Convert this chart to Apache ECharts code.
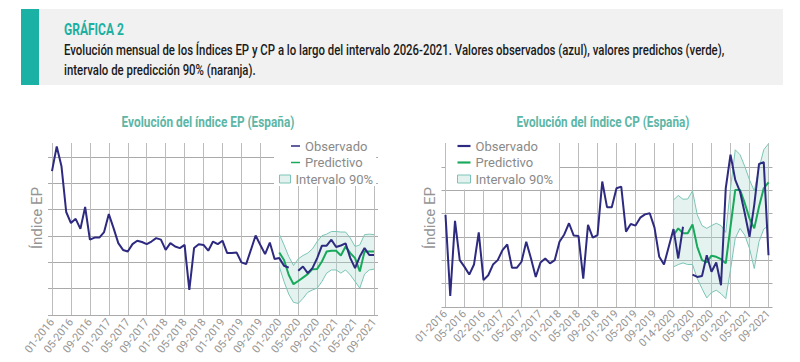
<!DOCTYPE html>
<html><head><meta charset="utf-8">
<script src="https://cdn.jsdelivr.net/npm/echarts@6/dist/echarts.min.js"></script>
<style>html,body{margin:0;padding:0;background:#fff}#c{width:800px;height:362px}</style>
</head><body><div id="c"></div>
<script>
const months = ['01-2016','02-2016','03-2016','04-2016','05-2016','06-2016','07-2016','08-2016','09-2016','10-2016','11-2016','12-2016',
'01-2017','02-2017','03-2017','04-2017','05-2017','06-2017','07-2017','08-2017','09-2017','10-2017','11-2017','12-2017',
'01-2018','02-2018','03-2018','04-2018','05-2018','06-2018','07-2018','08-2018','09-2018','10-2018','11-2018','12-2018',
'01-2019','02-2019','03-2019','04-2019','05-2019','06-2019','07-2019','08-2019','09-2019','10-2019','11-2019','12-2019',
'01-2020','02-2020','03-2020','04-2020','05-2020','06-2020','07-2020','08-2020','09-2020','10-2020','11-2020','12-2020',
'01-2021','02-2021','03-2021','04-2021','05-2021','06-2021','07-2021','08-2021','09-2021'];
const epTickLabels = ['01-2016','05-2016','09-2016','01-2017','05-2017','09-2017','01-2018','05-2018','09-2018','01-2019','05-2019','09-2019','01-2020','05-2020','09-2020','01-2021','05-2021','09-2021'];
const cpTickLabels = ['01-2016','05-2016','02-2016','01-2017','05-2017','09-2017','01-2018','05-2018','09-2018','01-2019','05-2019','09-2019','014-2020','05-2020','09-2020','01-2021','05-2021','09-2021'];
const forecastStart = '01-2020';

const epObserved = [5.46,6.40,5.65,3.91,3.49,3.65,3.27,4.10,2.86,2.94,2.94,3.15,3.83,3.30,2.73,2.47,2.41,2.69,2.82,2.77,2.69,2.79,2.92,2.86,2.47,2.73,2.60,2.54,2.66,0.95,2.54,2.69,2.66,2.44,2.79,2.69,2.82,2.35,2.35,2.37,2.00,1.93,2.47,3.02,2.66,2.31,2.75,2.13,2.16,1.87,1.80,null,1.68,1.84,1.59,1.78,2.16,2.63,2.63,2.86,2.58,2.64,2.72,2.16,1.78,2.22,2.54,2.28,2.28];
const epPredicted = [2.37,2.09,1.52,1.17,1.29,1.42,1.55,1.74,1.75,2.03,2.41,2.44,2.44,2.26,2.60,2.35,2.16,1.65,2.41,2.41,2.41];
const epLower = [1.84,1.27,0.79,0.48,0.44,0.63,0.86,0.95,1.02,1.27,1.59,1.71,1.71,1.59,1.71,1.52,1.27,1.02,1.55,1.71,1.74];
const epUpper = [3.07,2.66,2.22,1.88,2.13,2.26,2.35,2.51,2.79,3.01,3.07,3.17,3.17,3.15,3.15,2.92,2.60,2.66,3.05,3.07,3.05];

const cpObserved = [3.95,0.47,3.69,2.01,1.72,1.39,1.82,3.20,1.15,1.36,1.82,2.01,2.44,2.68,1.68,1.68,1.94,2.80,2.08,1.29,1.91,2.08,1.87,2.01,2.80,3.11,3.59,3.06,3.04,1.22,3.52,2.97,3.08,5.38,4.28,4.28,5.09,5.16,3.23,3.56,3.49,3.83,3.97,4.02,3.40,2.15,1.82,2.58,3.34,2.08,3.44,null,1.39,1.29,1.33,2.22,1.51,1.91,0.93,5.09,6.53,5.45,4.95,4.02,3.01,4.38,6.13,6.21,2.22];
const cpPredicted = [3.08,3.37,3.16,3.16,3.54,2.58,2.01,1.91,2.20,2.15,2.05,1.87,3.44,5.02,5.02,4.45,3.80,3.37,4.30,5.09,5.34];
const cpLower = [1.72,1.82,1.89,1.82,1.82,1.22,0.79,0.39,0.62,0.72,0.57,0.36,1.60,2.94,3.37,3.08,2.51,1.65,2.80,3.34,3.49];
const cpUpper = [4.59,4.78,4.62,4.63,4.98,3.95,3.49,3.37,3.49,3.59,3.49,3.20,5.09,6.74,6.53,6.03,5.45,4.98,5.95,6.74,7.00];

const headTitle = 'GRÁFICA 2';
const headLine1 = 'Evolución mensual de los Índices EP y CP a lo largo del intervalo 2026-2021. Valores observados (azul), valores predichos (verde),';
const headLine2 = 'intervalo de predicción 90% (naranja).';
const epTitle = 'Evolución del índice EP (España)';
const cpTitle = 'Evolución del índice CP (España)';

const FONT = "Roboto,'Noto Sans',sans-serif";
const C_OBS = '#2d2a80', C_PRED = '#19a95c', C_BAND = '#7cc5b6', C_FILL = 'rgba(170,218,205,0.32)';
const GRAY = '#959595';
const fIdx = months.indexOf(forecastStart);
const pairs = arr => arr.map((v, k) => [fIdx + k, v]);
const diffPairs = (lo, up) => lo.map((v, k) => [fIdx + k, +(up[k] - v).toFixed(3)]);

// condense text to the reference width (the original uses a condensed face)
const mctx = document.createElement('canvas').getContext('2d');
function fit(text, font, width) { mctx.font = font; return width / mctx.measureText(text).width; }
const F_HEAD = 'bold 17px ' + FONT, F_BODY = '500 15.5px ' + FONT, F_TTL = 'bold 14.5px ' + FONT;
const sBody = fit(headLine1, F_BODY, 661);

function catAxis(grid, labels, rot) {
  return {type:'category', gridIndex:grid, data:months, boundaryGap:false,
    axisLine:{show:false}, axisTick:{show:false},
    axisLabel:{interval:3, rotate:rot, color:GRAY, fontSize:11, fontFamily:FONT, margin:5,
      formatter:(v, i) => labels[Math.round(i / 4)] || ''},
    splitLine:{show:true, interval:3, lineStyle:{color:'#bcbcbc', width:1}}};
}
function dataYAxis(grid, max, pad) {
  return {type:'value', gridIndex:grid, min:0, max:max, axisLine:{show:false}, axisTick:{show:false},
    axisLabel:{show:false}, splitLine:{show:false}, name:'Índice EP', nameLocation:'middle', nameGap:8,
    nameTextStyle:{color:GRAY, fontSize:15, fontFamily:FONT, padding:[0,0,0,pad]}};
}
function lineYAxis(grid) {
  return {type:'value', gridIndex:grid, min:0, max:6, interval:1, axisLine:{show:false}, axisTick:{show:false},
    axisLabel:{show:false}, splitLine:{show:true, lineStyle:{color:'#aaaaaa', width:1}}};
}
function hiddenX(grid) { return {type:'value', gridIndex:grid, min:0, max:1, show:false}; }

function seriesFor(ax, key, obs, pred, lo, up) {
  return [
    {type:'line', name:key + 'Lower', xAxisIndex:ax, yAxisIndex:ax, stack:key, data:pairs(lo), symbol:'none',
      lineStyle:{color:C_BAND, width:1}, silent:true, z:2},
    {type:'line', name:'Intervalo 90%', xAxisIndex:ax, yAxisIndex:ax, stack:key, data:diffPairs(lo, up), symbol:'none',
      lineStyle:{color:C_BAND, width:1}, itemStyle:{color:C_BAND}, areaStyle:{color:C_FILL, opacity:1}, silent:true, z:2},
    {type:'line', name:'Predictivo', xAxisIndex:ax, yAxisIndex:ax, data:pairs(pred), symbol:'none',
      lineStyle:{color:C_PRED, width:2}, itemStyle:{color:C_PRED}, z:3},
    {type:'line', name:'Observado', xAxisIndex:ax, yAxisIndex:ax, data:obs, symbol:'none', connectNulls:false,
      lineStyle:{color:C_OBS, width:2}, itemStyle:{color:C_OBS}, z:4}
  ];
}
const legText = {color:'#8a8a8a', fontSize:13, fontFamily:FONT};
const LINE_ICON = 'path://M0,0 H12 V2 H0 Z';
const obsItem = {name:'Observado', icon:LINE_ICON};
const predItem = {name:'Predictivo', icon:LINE_ICON};
const bandItem = {name:'Intervalo 90%', icon:'rect', itemStyle:{color:'#e3f2ef', borderColor:C_BAND, borderWidth:1}};

const chart = echarts.init(document.getElementById('c'), null, {renderer:'svg'});
chart.setOption({
  animation:false,
  graphic:[
    {type:'rect', shape:{x:21, y:9, width:762, height:76}, style:{fill:'#f1f1f1'}, silent:true},
    {type:'rect', shape:{x:21, y:9, width:18, height:76}, style:{fill:'#1bb2a5'}, silent:true},
    {type:'text', x:64, y:29, scaleX:fit(headTitle, F_HEAD, 60),
      style:{text:headTitle, fill:'#1db0a2', font:F_HEAD, verticalAlign:'middle'}},
    {type:'text', x:64, y:49, scaleX:sBody, style:{text:headLine1, fill:'#1a1a1a', font:F_BODY, verticalAlign:'middle'}},
    {type:'text', x:64, y:69, scaleX:sBody, style:{text:headLine2, fill:'#1a1a1a', font:F_BODY, verticalAlign:'middle'}},
    {type:'text', x:208, y:122, scaleX:fit(epTitle, F_TTL, 173),
      style:{text:epTitle, fill:'#5db6a6', font:F_TTL, align:'center', verticalAlign:'middle'}},
    {type:'text', x:603, y:122, scaleX:fit(cpTitle, F_TTL, 173),
      style:{text:cpTitle, fill:'#5db6a6', font:F_TTL, align:'center', verticalAlign:'middle'}}
  ],
  legend:[
    {data:[bandItem], orient:'vertical', left:274, top:143, padding:[29.5,3,0.5,5], itemWidth:11, itemHeight:8,
      backgroundColor:'#ffffff', textStyle:legText, selectedMode:false},
    {data:[obsItem, predItem], orient:'vertical', left:291, top:139.5, padding:0, itemGap:3.5, itemWidth:9, itemHeight:8,
      textStyle:legText, selectedMode:false},
    {data:[obsItem, predItem, bandItem], orient:'vertical', left:446, top:139.5, padding:[0,6,4,11], itemGap:3.5,
      itemWidth:13, itemHeight:8, backgroundColor:'#ffffff', textStyle:legText, selectedMode:false}
  ],
  grid:[
    {left:52, right:426, top:143, bottom:47},
    {left:48, right:422, top:157, bottom:47},
    {left:445.5, right:31.5, top:143, bottom:55},
    {left:441.5, right:27.5, top:167, bottom:55}
  ],
  xAxis:[catAxis(0, epTickLabels, 52), hiddenX(1), catAxis(2, cpTickLabels, 45), hiddenX(3)],
  yAxis:[dataYAxis(0, 6.53, 22), lineYAxis(1), dataYAxis(2, 7.03, 14), lineYAxis(3)],
  series:[].concat(
    seriesFor(0, 'ep', epObserved, epPredicted, epLower, epUpper),
    seriesFor(2, 'cp', cpObserved, cpPredicted, cpLower, cpUpper)
  )
});
</script></body></html>
